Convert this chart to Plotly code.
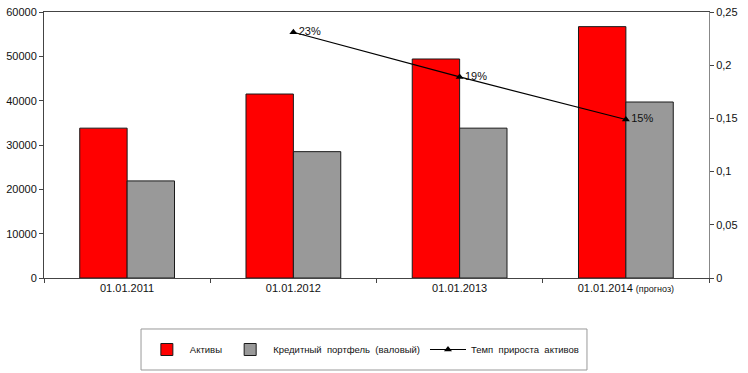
import plotly.graph_objects as go

categories = ["01.01.2011", "01.01.2012", "01.01.2013", "01.01.2014 <span style='font-size:9px'>(прогноз)</span>"]
assets = [33800, 41500, 49400, 56700]
loans = [21900, 28500, 33800, 39700]
growth_cats = categories[1:]
growth = [0.231, 0.189, 0.149]
growth_labels = ["23%", "19%", "15%"]

font = "Liberation Sans, Arial, sans-serif"

fig = go.Figure()
fig.add_trace(go.Bar(x=categories, y=assets, name="Активы",
                     marker=dict(color="#ff0000", line=dict(color="#1a1a1a", width=1))))
fig.add_trace(go.Bar(x=categories, y=loans, name="Кредитный  портфель  (валовый)",
                     marker=dict(color="#999999", line=dict(color="#1a1a1a", width=1))))
fig.add_trace(go.Scatter(x=growth_cats, y=growth, name="Темп  прироста  активов",
                         mode="lines+markers+text", text=growth_labels,
                         textposition="middle right",
                         textfont=dict(size=11, color="#111111"),
                         marker=dict(symbol="triangle-up", size=7, color="black"),
                         line=dict(color="black", width=1.2), yaxis="y2"))

fig.update_layout(
    width=748, height=373,
    margin=dict(l=44, r=39, t=12, b=95, autoexpand=False),
    paper_bgcolor="white", plot_bgcolor="white",
    font=dict(family=font, size=11, color="#111"),
    barmode="group", bargap=0.43, bargroupgap=0,
    showlegend=True,
    legend=dict(orientation="h", x=0.481, xanchor="center", y=-0.2688, yanchor="middle",
                borderwidth=0, bgcolor="rgba(0,0,0,0)", font=dict(size=9.5),
                itemwidth=36, traceorder="normal"),
    shapes=[dict(type="rect", xref="paper", yref="paper",
                 x0=0.1459, x1=0.8165, y0=-0.3459, y1=-0.1917,
                 line=dict(color="#999999", width=1), fillcolor="rgba(0,0,0,0)")],
    xaxis=dict(type="category", tickson="boundaries", ticks="outside", ticklen=4,
               showline=True, linecolor="#444", linewidth=1, mirror=True, automargin=False,
               showgrid=False, tickfont=dict(size=11)),
    yaxis=dict(range=[0, 60000], dtick=10000, ticks="outside", ticklen=4, automargin=False,
               showline=True, linecolor="#444", linewidth=1, showgrid=False,
               zeroline=False, tickformat="d", tickfont=dict(size=11)),
    yaxis2=dict(range=[0, 0.25], dtick=0.05, overlaying="y", side="right", automargin=False,
                ticks="outside", ticklen=4, showline=True, linecolor="#888", linewidth=1,
                showgrid=False, zeroline=False, tickformat=".2~f",
                tickfont=dict(size=11)),
    separators=", ",
)
fig.write_html("out.html", config={"displayModeBar": False},
               post_script="document.body.style.margin='0';document.body.style.overflow='hidden';")
